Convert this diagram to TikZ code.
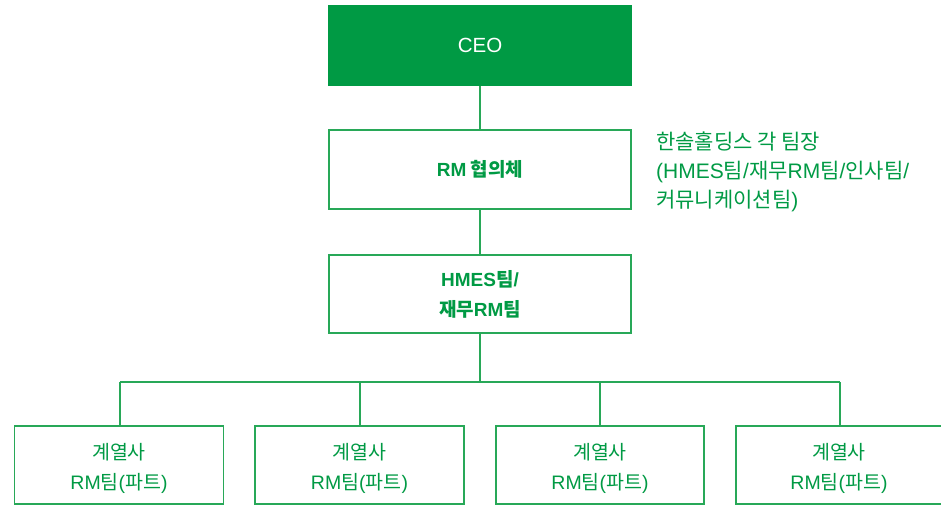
\documentclass[tikz,border=0pt]{standalone}
\usepackage{fontspec}
\setmainfont{Noto Sans CJK KR}
\newfontfamily\latfont{Liberation Sans}
\newcommand\latn[1]{{\latfont #1}}
\definecolor{hgreen}{RGB}{0,154,68}
\definecolor{lgreen}{RGB}{40,168,88}
\begin{document}
\begin{tikzpicture}[x=1pt,y=-1pt,
  box/.style={draw=lgreen,line width=1.3pt,fill=white,inner sep=0pt,align=center,text=hgreen,font=\fontsize{19}{30}\selectfont},
  boldbox/.style={box,font=\fontsize{19}{30}\selectfont\bfseries},
  lbl/.style={inner sep=0pt,align=center,text=hgreen,font=\fontsize{19.5}{30}\selectfont},
  conn/.style={draw=lgreen,line width=1.3pt}]
\useasboundingbox (0,0) rectangle (941,507);
\node[box,fill=hgreen,draw=hgreen,text=white,minimum width=303pt,minimum height=79pt,font=\fontsize{20.5}{30}\selectfont] (ceo) at (480,45.5) {\latn{CEO}};
\node[boldbox,minimum width=302pt,minimum height=79pt] (rm) at (480,169.5) {\latn{RM} 협의체};
\node[boldbox,minimum width=302pt,minimum height=78pt] (hmes) at (480,294) {\latn{HMES}팀\latn{/}\\재무\latn{RM}팀};
\node[anchor=north west,align=left,inner sep=0pt,text=hgreen,font=\fontsize{21}{29}\selectfont] (side) at (656,132) {한솔홀딩스 각 팀장\\\latn{(HMES}팀\latn{/}재무\latn{RM}팀\latn{/}인사팀\latn{/}\\커뮤니케이션팀\latn{)}};
\node[box,minimum width=209pt,minimum height=78pt] (b1) at (119,465) {};
\node[box,minimum width=209pt,minimum height=78pt] (b2) at (359.5,465) {};
\node[box,minimum width=208pt,minimum height=78pt] (b3) at (600,465) {};
\node[box,minimum width=206pt,minimum height=78pt] (b4) at (839,465) {};
\foreach \b in {b1,b2,b3,b4}
  \node[lbl] (\b t) at ([yshift=-3pt]\b.center) {계열사\\\latn{RM}팀\latn{(}파트\latn{)}};
\coordinate (hub) at (480,382);
\coordinate (h1) at (120,382);
\coordinate (h2) at (360,382);
\coordinate (h3) at (600,382);
\coordinate (h4) at (840,382);
\draw[conn] (ceo.south) -- (rm.north);
\draw[conn] (rm.south) -- (hmes.north);
\draw[conn] (hmes.south) -- (hub);
\draw[conn] (h1) -- (h4);
\draw[conn] (h1) -- (h1 |- b1.north);
\draw[conn] (h2) -- (h2 |- b2.north);
\draw[conn] (h3) -- (h3 |- b3.north);
\draw[conn] (h4) -- (h4 |- b4.north);
\end{tikzpicture}
\end{document}
